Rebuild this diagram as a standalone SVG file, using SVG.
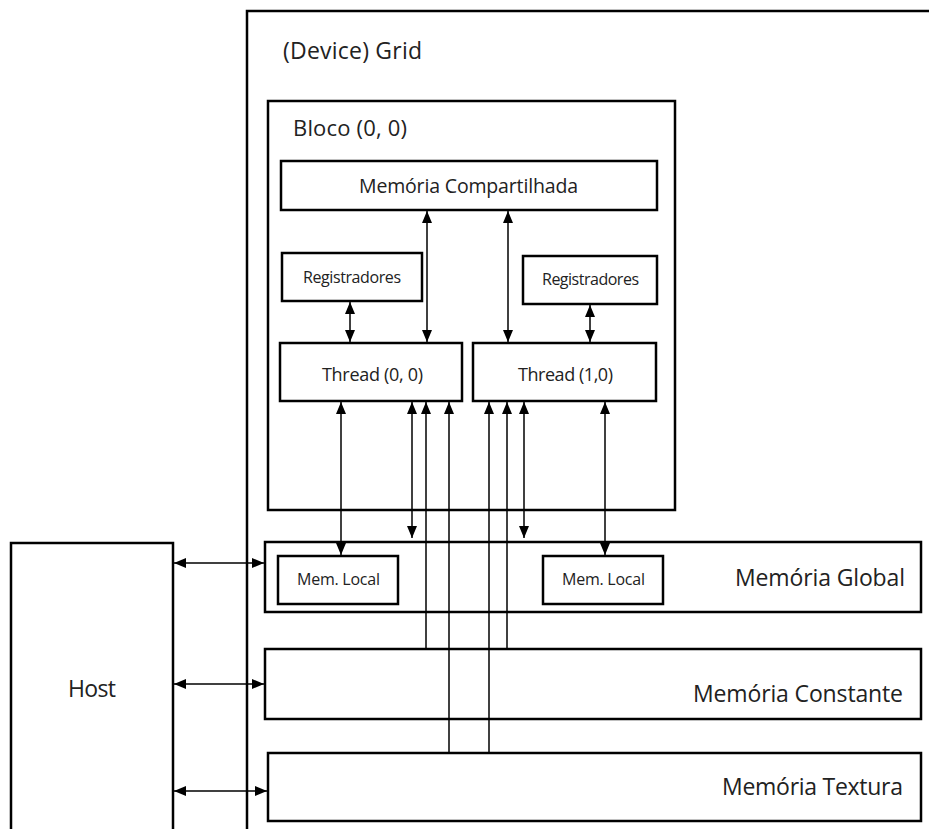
<svg xmlns="http://www.w3.org/2000/svg" width="929" height="829" viewBox="0 0 929 829">
<defs>
<style>
.box{fill:#fff;stroke:#000;stroke-width:2.5}
.ln{stroke:#000;stroke-width:1.5;fill:none}
.t{font-family:"Open Sans","Noto Sans",sans-serif;fill:#222}
</style>
<marker id="ah" viewBox="0 0 12 10" refX="12" refY="5" markerWidth="12" markerHeight="10" markerUnits="userSpaceOnUse" orient="auto-start-reverse">
<path d="M0,0 L12,5 L0,10 Z" fill="#000"/>
</marker>
</defs>
<rect width="929" height="829" fill="#fff"/>
<g id="grid">
<rect class="box" x="247" y="11" width="700" height="840"/>
<text class="t" x="283" y="59" font-size="23" textLength="139">(Device) Grid</text>
</g>
<g id="host">
<rect class="box" x="11" y="543" width="162" height="300"/>
<text class="t" x="68" y="697" font-size="23" textLength="48">Host</text>
</g>
<g id="bloco">
<rect class="box" x="268" y="101" width="407" height="409"/>
<text class="t" x="293" y="136" font-size="22" textLength="114">Bloco (0, 0)</text>
</g>
<g id="shared">
<rect class="box" x="281" y="161" width="376" height="49"/>
<text class="t" x="359" y="193" font-size="19.5" textLength="219">Memória Compartilhada</text>
</g>
<g id="reg0">
<rect class="box" x="282" y="253" width="140" height="48"/>
<text class="t" x="303" y="283" font-size="16" textLength="98">Registradores</text>
</g>
<g id="reg1">
<rect class="box" x="523" y="256" width="134" height="48"/>
<text class="t" x="542" y="285" font-size="16" textLength="97">Registradores</text>
</g>
<g id="thread0">
<rect class="box" x="280" y="343" width="182" height="58"/>
<text class="t" x="322" y="381" font-size="18" textLength="101">Thread (0, 0)</text>
</g>
<g id="thread1">
<rect class="box" x="473" y="343" width="183" height="58"/>
<text class="t" x="518" y="381" font-size="18" textLength="95">Thread (1,0)</text>
</g>
<g id="global">
<rect class="box" x="265" y="542" width="656" height="70"/>
<text class="t" x="735" y="586" font-size="23" textLength="170">Memória Global</text>
</g>
<g id="local0">
<rect class="box" x="278" y="556" width="120" height="48"/>
<text class="t" x="297" y="585" font-size="16" textLength="83">Mem. Local</text>
</g>
<g id="local1">
<rect class="box" x="543" y="556" width="120" height="48"/>
<text class="t" x="562" y="585" font-size="16" textLength="83">Mem. Local</text>
</g>
<g id="constant">
<rect class="box" x="265" y="649" width="656" height="70"/>
<text class="t" x="693" y="702" font-size="23" textLength="210">Memória Constante</text>
</g>
<g id="texture">
<rect class="box" x="268" y="753" width="653" height="68"/>
<text class="t" x="722" y="795" font-size="23" textLength="181">Memória Textura</text>
</g>
<g id="connectors" class="ln">
<line x1="350" y1="302" x2="350" y2="342" marker-start="url(#ah)" marker-end="url(#ah)"/>
<line x1="590" y1="305" x2="590" y2="342" marker-start="url(#ah)" marker-end="url(#ah)"/>
<line x1="427" y1="211" x2="427" y2="342" marker-start="url(#ah)" marker-end="url(#ah)"/>
<line x1="508" y1="211" x2="508" y2="342" marker-start="url(#ah)" marker-end="url(#ah)"/>
<line x1="341" y1="402" x2="341" y2="555" marker-start="url(#ah)" marker-end="url(#ah)"/>
<line x1="412" y1="402" x2="412" y2="538" marker-start="url(#ah)" marker-end="url(#ah)"/>
<line x1="524" y1="402" x2="524" y2="538" marker-start="url(#ah)" marker-end="url(#ah)"/>
<line x1="605" y1="402" x2="605" y2="555" marker-start="url(#ah)" marker-end="url(#ah)"/>
<line x1="426" y1="649" x2="426" y2="402" marker-end="url(#ah)"/>
<line x1="507" y1="649" x2="507" y2="402" marker-end="url(#ah)"/>
<line x1="449" y1="753" x2="449" y2="402" marker-end="url(#ah)"/>
<line x1="489" y1="753" x2="489" y2="402" marker-end="url(#ah)"/>
<line x1="174" y1="563" x2="264" y2="563" marker-start="url(#ah)" marker-end="url(#ah)"/>
<line x1="174" y1="684" x2="264" y2="684" marker-start="url(#ah)" marker-end="url(#ah)"/>
<line x1="174" y1="791" x2="267" y2="791" marker-start="url(#ah)" marker-end="url(#ah)"/>
</g>
</svg>
